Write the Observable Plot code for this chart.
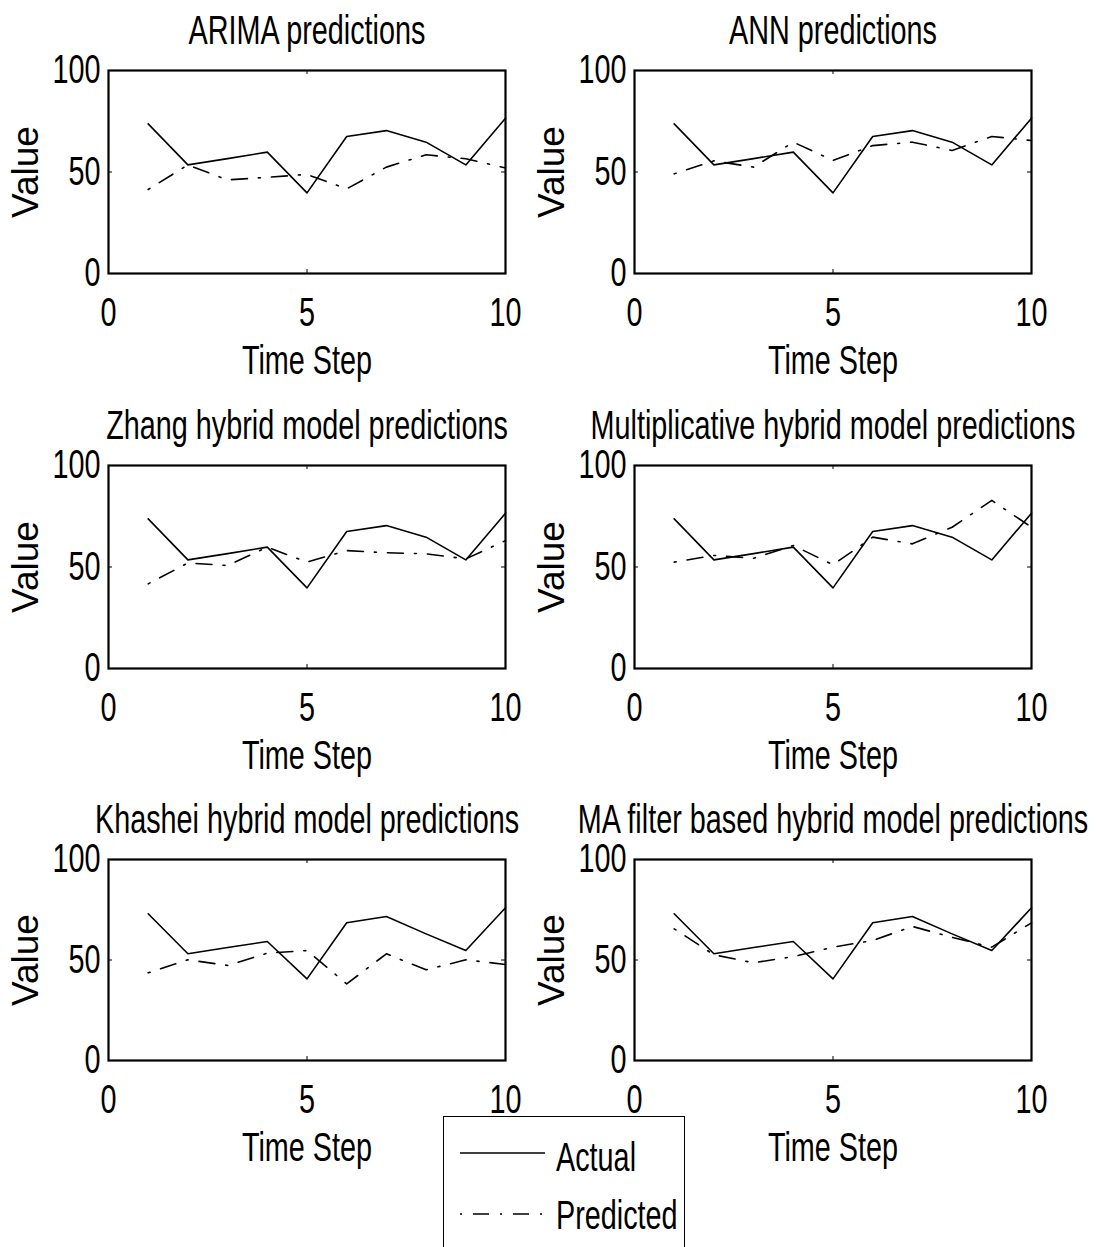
<!DOCTYPE html>
<html>
<head>
<meta charset="utf-8">
<script src="https://cdn.jsdelivr.net/npm/d3@7"></script>
<script src="https://cdn.jsdelivr.net/npm/@observablehq/plot@0.6"></script>
<style>
  html, body { margin: 0; padding: 0; background: white; }
  #fig { position: relative; width: 1096px; height: 1247px; overflow: hidden; background: white; }
  #fig > svg { position: absolute; }
  #legend { position: absolute; left: 443px; top: 1116px; width: 240px; height: 160px; border: 1.5px solid black; background: white; }
</style>
</head>
<body>
<div id="fig"></div>
<script>
// ---- data ----
const steps = [1, 2, 3, 4, 5, 6, 7, 8, 9, 10];
const titles = [
  "ARIMA predictions",
  "ANN predictions",
  "Zhang hybrid model predictions",
  "Multiplicative hybrid model predictions",
  "Khashei hybrid model predictions",
  "MA filter based hybrid model predictions"
];
const actualTop = [73.7, 53.5, 56.6, 59.8, 39.7, 67.5, 70.4, 64.7, 53.5, 76.5];
const actualBottom = [73.0, 53.1, 56.2, 59.2, 40.6, 68.5, 71.6, 63.0, 54.7, 76.0];
const predArima = [41.4, 53.5, 46.1, 47.4, 48.8, 41.7, 52.4, 58.5, 56.5, 52.0];
const predAnn = [49.1, 55.5, 52.4, 64.7, 55.7, 63.0, 64.7, 60.6, 67.5, 65.5];
const predZhang = [41.7, 52.0, 50.7, 59.8, 52.4, 58.1, 57.0, 56.5, 54.0, 63.0];
const predMult = [52.4, 55.7, 54.3, 60.6, 51.1, 64.7, 61.4, 69.6, 82.8, 69.6];
const predKhashei = [43.6, 50.1, 47.3, 53.4, 54.7, 38.1, 53.1, 45.1, 50.1, 47.8];
const predMA = [65.5, 52.6, 48.6, 51.7, 56.4, 59.7, 66.7, 61.3, 56.4, 68.5];
const xTicks = [0, 5, 10];
const yTicks = [0, 50, 100];
const legendLabels = ["Actual", "Predicted"];

const actuals = [actualTop, actualTop, actualTop, actualTop, actualBottom, actualBottom];
const preds = [predArima, predAnn, predZhang, predMult, predKhashei, predMA];

// ---- layout ----
const FONT = "'Liberation Sans', Arial, sans-serif";
const DASHDOT = "2,11,16,11";
const rowTops = [0, 395, 789];
const colLefts = [0, 526];
const innerH = [203, 203, 201];

const fig = document.getElementById("fig");

for (let i = 0; i < 6; i++) {
  const col = i % 2, row = Math.floor(i / 2);
  const act = steps.map((s, k) => ({x: s, y: actuals[i][k]}));
  const pre = steps.map((s, k) => ({x: s, y: preds[i][k]}));
  const mt = 70, mb = 112;
  const chart = Plot.plot({
    width: 570,
    height: mt + innerH[row] + mb,
    marginLeft: 108,
    marginRight: 65,
    marginTop: mt,
    marginBottom: mb,
    x: {domain: [0, 10]},
    y: {domain: [0, 100]},
    style: {fontFamily: FONT, fontSize: "40px", background: "transparent", color: "black", overflow: "visible"},
    marks: [
      Plot.axisX({ticks: xTicks, tickSize: 0, tickPadding: 24, fontSize: 40, label: null}),
      Plot.axisY({ticks: yTicks, tickSize: 0, tickPadding: 8, fontSize: 40, label: null}),
      Plot.ruleX([5], {y1: 0, y2: 2, stroke: "black", strokeWidth: 1}),
      Plot.ruleX([5], {y1: 98, y2: 100, stroke: "black", strokeWidth: 1}),
      Plot.ruleY([50], {x1: 0, x2: 0.1, stroke: "black", strokeWidth: 1}),
      Plot.ruleY([50], {x1: 9.9, x2: 10, stroke: "black", strokeWidth: 1}),
      Plot.line(act, {x: "x", y: "y", stroke: "black", strokeWidth: 1.6}),
      Plot.line(pre, {x: "x", y: "y", stroke: "black", strokeWidth: 1.6, strokeDasharray: DASHDOT}),
      Plot.frame({stroke: "black", strokeWidth: 2.2}),
      Plot.text([titles[i]], {frameAnchor: "top", textAnchor: "middle", lineAnchor: "top", dy: -55.4, fontSize: 40, fill: "black"}),
      Plot.text(["Time Step"], {frameAnchor: "bottom", textAnchor: "middle", lineAnchor: "top", dy: 71.6, fontSize: 40, fill: "black"}),
      Plot.text(["Value"], {frameAnchor: "left", textAnchor: "middle", lineAnchor: "middle", rotate: -90, dx: -82, fontSize: 37, fill: "black"})
    ]
  });
  chart.style.left = colLefts[col] + "px";
  chart.style.top = rowTops[row] + "px";
  fig.appendChild(chart);
}

// ---- legend ----
const leg = document.createElement("div");
leg.id = "legend";
const ns = "http://www.w3.org/2000/svg";
const lsvg = document.createElementNS(ns, "svg");
lsvg.setAttribute("width", 240);
lsvg.setAttribute("height", 160);
const legendDefs = [
  {label: legendLabels[0], y: 36, dash: null, base: 54},
  {label: legendLabels[1], y: 97, dash: DASHDOT, base: 112}
];
for (const d of legendDefs) {
  const ln = document.createElementNS(ns, "line");
  ln.setAttribute("x1", 16); ln.setAttribute("x2", 101);
  ln.setAttribute("y1", d.y); ln.setAttribute("y2", d.y);
  ln.setAttribute("stroke", "black"); ln.setAttribute("stroke-width", 1.6);
  if (d.dash) ln.setAttribute("stroke-dasharray", d.dash);
  lsvg.appendChild(ln);
  const t = document.createElementNS(ns, "text");
  t.setAttribute("transform", `translate(112,${d.base})`);
  t.setAttribute("font-family", FONT); t.setAttribute("font-size", 40);
  t.setAttribute("fill", "black");
  t.textContent = d.label;
  lsvg.appendChild(t);
}
leg.appendChild(lsvg);
fig.appendChild(leg);

// ---- condense text horizontally (tall, narrow glyphs as in the original) ----
const SX = 0.72;
fig.querySelectorAll("text").forEach(el => {
  if (el.textContent === "Value") return;
  let tr = el.getAttribute("transform") || "";
  const xa = el.getAttribute("x");
  if (xa != null && xa !== "") {
    tr = tr + ` translate(${parseFloat(xa)},0)`;
    el.removeAttribute("x");
  }
  el.setAttribute("transform", (tr + ` scale(${SX},1)`).trim());
});
</script>
</body>
</html>
